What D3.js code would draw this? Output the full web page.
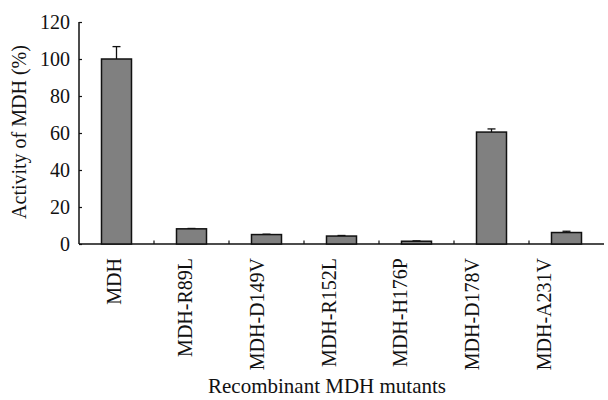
<!DOCTYPE html>
<html>
<head>
<meta charset="utf-8">
<script src="https://cdn.jsdelivr.net/npm/d3@7"></script>
<style>
  body { margin: 0; background: #fff; }
  svg text { font-family: "Liberation Serif", "DejaVu Serif", serif; fill: #111; }
</style>
</head>
<body>
<svg class="canvasClass" width="608" height="400"></svg>
<script>
// data
const mutants = ["MDH", "MDH-R89L", "MDH-D149V", "MDH-R152L", "MDH-H176P", "MDH-D178V", "MDH-A231V"];
const activity = [100, 8.2, 5.1, 4.3, 1.5, 60.5, 6.2];
const errUp = [6.7, 0.2, 0.2, 0.3, 0.2, 1.7, 0.7];
const yTicks = [0, 20, 40, 60, 80, 100, 120];

let svg = d3.select(".canvasClass"),
    plotLeft = 79, plotRight = 604, plotTop = 22, plotBottom = 244;

let x = d3.scaleBand().domain(mutants).range([plotLeft, plotRight]).paddingInner(0.6).paddingOuter(0.3);
let y = d3.scaleLinear().domain([0, 120]).range([plotBottom, plotTop]);
// the category labels in the original sit on a slightly tighter spacing than the bars
let labelX = d3.scalePoint().domain(mutants).range([114, 544]);

// y axis, ticks point inwards
let yAxis = svg.append("g")
    .attr("transform", "translate(" + plotLeft + ",0)")
    .call(d3.axisRight(y).tickValues(yTicks).tickSize(3).tickFormat(""));
yAxis.select(".domain").attr("d", "M0," + plotTop + "V" + plotBottom).attr("stroke", "#111").attr("stroke-width", 1.5);
yAxis.selectAll(".tick line").attr("stroke", "#111").attr("stroke-width", 1.2);

svg.append("g").selectAll("text")
    .data(yTicks)
    .enter()
    .append("text")
    .attr("x", 70)
    .attr("y", d => y(d) + 7)
    .attr("text-anchor", "end")
    .style("font-size", "20px")
    .text(d => d);

// x axis with small ticks between the categories
let step = x.step();
let between = d3.range(1, mutants.length).map(i => x(mutants[i]) - (step - x.bandwidth()) / 2);
svg.append("line")
    .attr("x1", plotLeft).attr("x2", plotRight)
    .attr("y1", plotBottom).attr("y2", plotBottom)
    .attr("stroke", "#111").attr("stroke-width", 1.5);
svg.append("g").selectAll("line")
    .data(between)
    .enter()
    .append("line")
    .attr("x1", d => d).attr("x2", d => d)
    .attr("y1", plotBottom).attr("y2", plotBottom - 3.5)
    .attr("stroke", "#111").attr("stroke-width", 1.2);

// error bars (upper only)
let err = svg.append("g").selectAll("g")
    .data(mutants)
    .enter()
    .append("g");
err.append("line")
    .attr("x1", d => x(d) + x.bandwidth() / 2)
    .attr("x2", d => x(d) + x.bandwidth() / 2)
    .attr("y1", (d, i) => y(activity[i]))
    .attr("y2", (d, i) => y(activity[i] + errUp[i]))
    .attr("stroke", "#111").attr("stroke-width", 1.3);
err.append("line")
    .attr("x1", d => x(d) + x.bandwidth() / 2 - 4)
    .attr("x2", d => x(d) + x.bandwidth() / 2 + 4)
    .attr("y1", (d, i) => y(activity[i] + errUp[i]))
    .attr("y2", (d, i) => y(activity[i] + errUp[i]))
    .attr("stroke", "#111").attr("stroke-width", 1.3);

// bars
svg.append("g").selectAll("rect")
    .data(mutants)
    .enter()
    .append("rect")
    .attr("x", d => x(d))
    .attr("width", x.bandwidth())
    .attr("y", (d, i) => y(activity[i]))
    .attr("height", (d, i) => plotBottom - y(activity[i]))
    .attr("fill", "#808080")
    .attr("stroke", "#111")
    .attr("stroke-width", 1.5);

// category labels, rotated
svg.append("g").selectAll("text")
    .data(mutants)
    .enter()
    .append("text")
    .attr("transform", d => "translate(" + (labelX(d) + 6.5) + ",258) rotate(-90)")
    .attr("text-anchor", "end")
    .style("font-size", "20px")
    .text(d => d);

// axis titles
svg.append("text")
    .attr("x", 327)
    .attr("y", 393)
    .attr("text-anchor", "middle")
    .style("font-size", "21px")
    .text("Recombinant MDH mutants");

svg.append("text")
    .attr("transform", "translate(26,132) rotate(-90)")
    .attr("text-anchor", "middle")
    .style("font-size", "20px")
    .text("Activity of MDH (%)");
</script>
</body>
</html>
